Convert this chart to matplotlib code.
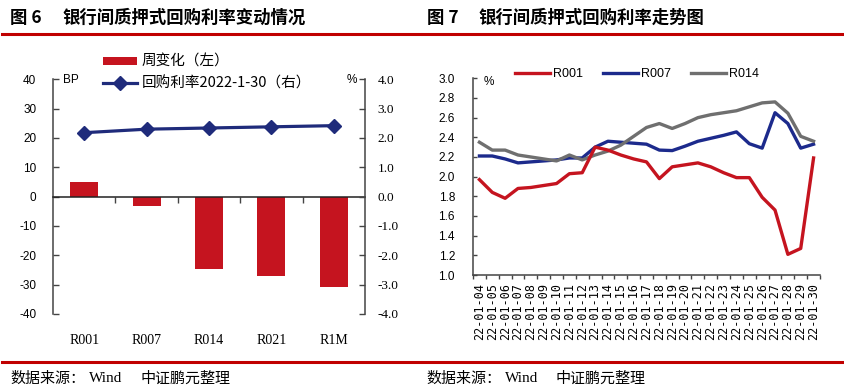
import matplotlib
matplotlib.use('Agg')
import matplotlib.pyplot as plt
from matplotlib.lines import Line2D
import numpy as np

plt.rcParams['axes.unicode_minus'] = False

# ---------------- data ----------------
tenors = ['R001', 'R007', 'R014', 'R021', 'R1M']
weekly_change_bp = [5.1, -3.2, -24.5, -27.0, -30.8]
rate_2022_01_30 = [2.18, 2.30, 2.34, 2.38, 2.42]

dates = ['22-01-%02d' % d for d in range(4, 31)]
r001 = [1.97, 1.84, 1.78, 1.88, 1.89, 1.91, 1.93, 2.03, 2.04, 2.30, 2.27, 2.22, 2.18, 2.15,
        1.98, 2.10, 2.12, 2.14, 2.10, 2.04, 1.99, 1.99, 1.79, 1.66, 1.21, 1.27, 2.19]
r007 = [2.21, 2.21, 2.18, 2.14, 2.15, 2.16, 2.17, 2.19, 2.19, 2.30, 2.36, 2.35, 2.34, 2.33,
        2.27, 2.265, 2.31, 2.36, 2.39, 2.42, 2.455, 2.335, 2.29, 2.65, 2.54, 2.29, 2.33]
r014 = [2.35, 2.27, 2.27, 2.22, 2.20, 2.18, 2.16, 2.22, 2.17, 2.22, 2.26, 2.32, 2.41, 2.50,
        2.54, 2.49, 2.54, 2.60, 2.63, 2.65, 2.67, 2.71, 2.75, 2.76, 2.645, 2.41, 2.36]

# ---------------- style ----------------
CJK = ['Noto Sans CJK SC', 'DejaVu Sans']
SANS = 'Liberation Sans'
SERIF = 'Liberation Serif'
RED = '#C5141F'
NAVY = '#1F2B7B'
BLUE = '#1C2A8C'
GRAY = '#6F6F6F'
DARKRED = '#C00000'
SPINE = '#444444'

W, H = 845, 391
fig = plt.figure(figsize=(W / 100, H / 100), dpi=100)


def px_axes(l, t, r, b):
    return fig.add_axes([l / W, 1 - b / H, (r - l) / W, (b - t) / H])


def fig_text(x, y, s, **kw):
    fig.text(x / W, 1 - y / H, s, **kw)


def hline(x0, x1, y, lw=2.2):
    fig.add_artist(Line2D([x0 / W, x1 / W], [1 - y / H, 1 - y / H], color=DARKRED, lw=lw,
                          transform=fig.transFigure))


# titles and decorations
fig_text(10, 18, '图 6', family=CJK, fontsize=12.5, weight='bold', va='center')
fig_text(62, 18, '银行间质押式回购利率变动情况', family=CJK, fontsize=12.5, weight='bold', va='center')
fig_text(427, 18, '图 7', family=CJK, fontsize=12.5, weight='bold', va='center')
fig_text(478, 18, '银行间质押式回购利率走势图', family=CJK, fontsize=12.5, weight='bold', va='center')
hline(2, 420, 34)
hline(423, 845, 34)
hline(2, 420, 361.5)
hline(423, 845, 361.5)
for x0 in (10, 426):
    fig_text(x0, 379, '数据来源：', family=CJK, fontsize=10.8, va='center')
    fig_text(x0 + 79, 379, 'Wind', family=SERIF, fontsize=11, va='center')
    fig_text(x0 + 130, 379, '中证鹏元整理', family=CJK, fontsize=10.8, va='center')

# ---------------- left chart ----------------
ax1 = px_axes(53, 79.3, 365, 314)
x = np.arange(len(tenors))
bars = ax1.bar(x, weekly_change_bp, width=0.45, color=RED, label='周变化（左）', zorder=2)
ax1.set_xlim(-0.5, len(tenors) - 0.5)
ax1.set_ylim(-40, 40)
ax1.set_yticks(range(-40, 41, 10))
ax1.set_xticks(np.arange(0.5, len(tenors) - 0.5, 1.0))
ax1.set_xticklabels([])
ax1.spines['top'].set_visible(False)
ax1.spines['right'].set_visible(False)
ax1.spines['bottom'].set_position(('data', 0))
for s in ('left', 'bottom'):
    ax1.spines[s].set_color(SPINE)
    ax1.spines[s].set_linewidth(1.1)
ax1.spines['bottom'].set_color('#222222')
ax1.tick_params(axis='x', direction='out', length=4, width=1, color=SPINE)
ax1.tick_params(axis='y', direction='in', length=4, width=1, color=SPINE, pad=12,
                labelsize=8.5)
for lab in ax1.get_yticklabels():
    lab.set_family(SANS)
for i, t in enumerate(tenors):
    ax1.annotate(t, xy=(i, 0), xycoords=('data', 'axes fraction'), xytext=(0, -19),
                 textcoords='offset points', ha='center', va='center', fontsize=10,
                 family=SERIF)

ax2 = ax1.twinx()
line, = ax2.plot(x, rate_2022_01_30, color=NAVY, lw=2.3, marker='D', ms=7,
                 label='回购利率2022-1-30（右）', zorder=3)
ax2.set_ylim(-4, 4)
ax2.set_yticks(np.arange(-4, 4.01, 1.0))
ax2.set_yticklabels(['%.1f' % v for v in np.arange(-4, 4.01, 1.0)])
for s in ('top', 'bottom', 'left'):
    ax2.spines[s].set_visible(False)
ax2.spines['right'].set_color(SPINE)
ax2.spines['right'].set_linewidth(1.1)
ax2.tick_params(axis='y', direction='in', length=4, width=1, color=SPINE, pad=9,
                labelsize=9.5)
for lab in ax2.get_yticklabels():
    lab.set_family(SERIF)

fig_text(63, 80, 'BP', family=SANS, fontsize=8.5, va='center')
fig_text(347, 80, '%', family=SANS, fontsize=8.5, va='center')

ax2.legend([bars, line], ['周变化（左）', '回购利率2022-1-30（右）'], loc='upper left',
           bbox_to_anchor=(103 / W, 1 - 55 / H), bbox_transform=fig.transFigure,
           frameon=False, borderpad=0, borderaxespad=0, handlelength=2.35,
           handletextpad=0.3, labelspacing=0.5, handleheight=0.5,
           prop={'family': CJK, 'size': 10.5})

# ---------------- right chart ----------------
ax3 = px_axes(473, 78.3, 820, 275)
idx = np.arange(len(dates))
l7, = ax3.plot(idx, r007, color=BLUE, lw=2.4, label='R007', zorder=2)
l14, = ax3.plot(idx, r014, color=GRAY, lw=2.4, label='R014', zorder=3)
l1, = ax3.plot(idx, r001, color=RED, lw=2.4, label='R001', zorder=4)
ax3.set_xlim(-0.5, len(dates) - 0.5)
ax3.set_ylim(1.0, 3.0)
yt = np.arange(1.0, 3.001, 0.2)
ax3.set_yticks(yt)
ax3.set_yticklabels(['%.1f' % v for v in yt])
ax3.set_xticks(np.arange(-0.5, len(dates), 1.0))
ax3.set_xticklabels([])
ax3.set_xticks(idx, minor=True)
ax3.set_xticklabels(dates, minor=True, rotation=90, fontsize=8.5, family='DejaVu Sans Mono')
ax3.tick_params(axis='x', which='major', direction='out', length=3, width=1, color=SPINE)
ax3.tick_params(axis='x', which='minor', length=0, pad=6)
ax3.tick_params(axis='y', direction='in', length=3, width=1, color=SPINE, pad=13,
                labelsize=8.5)
for lab in ax3.get_yticklabels():
    lab.set_family(SANS)
ax3.spines['top'].set_visible(False)
ax3.spines['right'].set_visible(False)
for s in ('left', 'bottom'):
    ax3.spines[s].set_color(SPINE)
    ax3.spines[s].set_linewidth(1.1)

fig_text(484, 82, '%', family=SANS, fontsize=8.5, va='center')

ax3.legend([l1, l7, l14], ['R001', 'R007', 'R014'], loc='center left', ncol=3,
           bbox_to_anchor=(515 / W, 1 - 74 / H), bbox_transform=fig.transFigure,
           frameon=False, borderpad=0, borderaxespad=0, handlelength=2.8,
           handletextpad=0.25, columnspacing=1.6,
           prop={'family': SANS, 'size': 9})

fig.savefig('out.png', dpi=100)
